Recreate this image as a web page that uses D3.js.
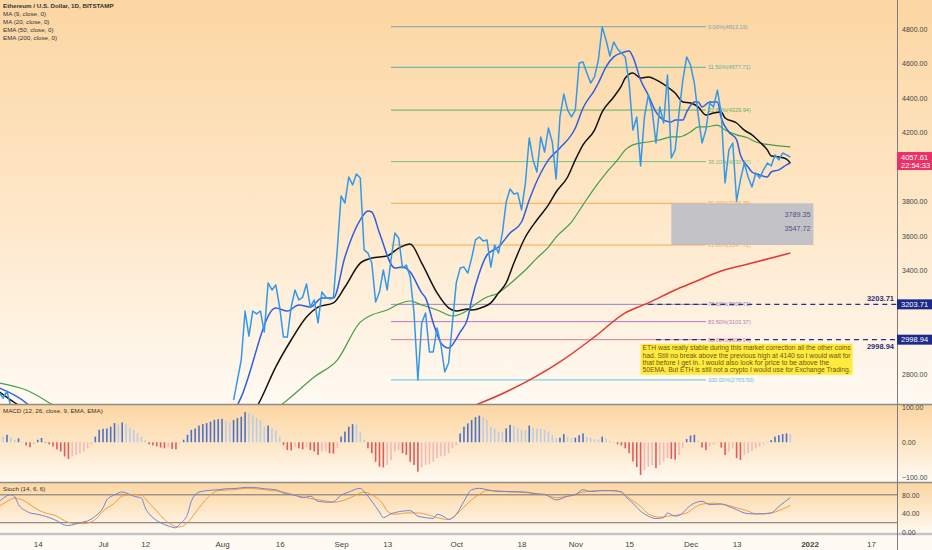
<!DOCTYPE html>
<html>
<head>
<meta charset="utf-8">
<script src="https://cdn.jsdelivr.net/npm/d3@7/dist/d3.min.js"></script>
<style>
  body { margin: 0; background: #fffaf2; }
  svg { display: block; font-family: "Liberation Sans", Arial, sans-serif; }
</style>
</head>
<body>
<div id="chart"></div>
<script>
// day 0 is 1 June 2021, every series is keyed on days from that date
var startDate = new Date(2021, 5, 1);

// daily close (light blue line), first value is day 64 (4 Aug)
var closeStart = 64;
var closes = [2649, 2765, 2881, 3165, 3020, 3165, 3148, 3165, 3043, 3328,
  3287, 3316, 3188, 3014, 3014, 3188, 3287, 3229, 3246, 3322,
  3188, 3229, 3096, 3275, 3246, 3235, 3241, 3519, 3832, 3791,
  3942, 3896, 3959, 3936, 3519, 3501, 3443, 3217, 3275, 3403,
  3287, 3461, 3617, 3588, 3414, 3432, 3362, 3154, 2765, 3096,
  3154, 2928, 2928, 3067, 2968, 2812, 2864, 3096, 3328, 3414,
  3420, 3385, 3472, 3577, 3594, 3571, 3577, 3420, 3548, 3501,
  3617, 3797, 3872, 3843, 3849, 3751, 3907, 4168, 4041, 3971,
  4174, 4087, 4226, 4145, 3930, 4290, 4423, 4330, 4290, 4330,
  4603, 4609, 4545, 4487, 4522, 4620, 4812, 4736, 4643, 4725,
  4684, 4661, 4638, 4487, 4214, 4290, 4006, 4290, 4417, 4330,
  4139, 4348, 4255, 4533, 4052, 4099, 4313, 4504, 4638, 4591,
  4487, 4301, 4139, 4214, 4371, 4348, 4446, 4313, 3907, 4099,
  4139, 3803, 3925, 4023, 3942, 3884, 3965, 3936, 3983, 4023,
  4006, 4070, 4041, 4081, 4070, 4057.61];
// early June closes before price drops below the visible range
var earlyCloses = [[3, 2690], [4, 2660], [5, 2700], [6, 2610], [7, 2560], [8, 2480]];

// moving averages as [day, price], values under 2626 are below the pane
var ma9 = [[3, 2719], [10, 2632], [20, 2350], [35, 2150], [50, 2050], [60, 2400],
  [66, 2667], [75, 3183], [78, 3165], [81, 3200], [84, 3188], [87, 3241], [90, 3241],
  [93, 3478], [97, 3693], [99, 3745], [100, 3739], [102, 3617], [106, 3414], [108, 3420],
  [110, 3391], [113, 3270], [114, 3241], [116, 3096], [118, 2980], [120, 2951], [123, 3043],
  [125, 3125], [126, 3229], [128, 3386], [130, 3490], [133, 3536], [136, 3617], [139, 3681],
  [141, 3809], [144, 3965], [146, 4041], [149, 4110], [153, 4226], [155, 4342], [158, 4446],
  [159, 4487], [161, 4580], [163, 4638], [165, 4661], [167, 4672], [168, 4638], [170, 4504],
  [172, 4417], [174, 4319], [176, 4272], [178, 4261], [179, 4272], [181, 4272], [182, 4319],
  [184, 4377], [185, 4377], [186, 4348], [188, 4377], [190, 4377], [191, 4284], [193, 4203],
  [195, 4157], [196, 4070], [198, 4000], [199, 3971], [201, 3954], [203, 3942], [204, 3971],
  [206, 3983], [208, 4012], [209, 4023]];

var ma20 = [[3, 2696], [6, 2649], [20, 2450], [40, 2100], [55, 2150],
  [71, 2649], [75, 2841], [79, 2997], [83, 3130], [86, 3188], [90, 3212], [93, 3304],
  [97, 3443], [100, 3472], [104, 3484], [107, 3530], [110, 3554], [113, 3443], [117, 3270],
  [120, 3183], [122, 3165], [125, 3177], [126, 3171], [129, 3188], [131, 3212], [133, 3270],
  [135, 3328], [137, 3443], [140, 3594], [143, 3693], [146, 3780], [148, 3855], [151, 3942],
  [153, 4041], [155, 4128], [158, 4214], [160, 4319], [163, 4406], [165, 4470], [166, 4516],
  [168, 4545], [170, 4516], [172, 4522], [175, 4493], [177, 4464], [179, 4429], [181, 4377],
  [183, 4371], [185, 4348], [187, 4301], [189, 4313], [191, 4319], [192, 4284], [195, 4255],
  [197, 4214], [199, 4186], [201, 4145], [203, 4099], [204, 4064], [206, 4058], [208, 4046],
  [209, 4023]];

var ema50 = [[3, 2748], [10, 2707], [17, 2620], [35, 2350], [60, 2400],
  [78, 2649], [85, 2783], [91, 2881], [97, 3101], [100, 3142], [104, 3171], [107, 3206],
  [110, 3223], [113, 3200], [117, 3171], [121, 3136], [125, 3171], [126, 3188], [130, 3246],
  [133, 3270], [135, 3304], [138, 3362], [140, 3403], [143, 3472], [146, 3536], [148, 3594],
  [152, 3681], [155, 3780], [158, 3878], [161, 3965], [164, 4041], [166, 4099], [168, 4128],
  [172, 4145], [175, 4157], [178, 4174], [180, 4174], [183, 4203], [185, 4232], [187, 4232],
  [190, 4243], [192, 4214], [195, 4186], [198, 4168], [200, 4145], [204, 4128], [209, 4116]];

var ema200 = [[60, 2250], [100, 2450], [127, 2620], [136, 2707], [149, 2870], [158, 3015],
  [166, 3154], [172, 3212], [179, 3287], [184, 3333], [191, 3397], [197, 3432], [209, 3501]];

// fibonacci retracement levels
var fibLabels = ["0.00%", "11.50%", "23.60%", "38.20%", "50.00%", "61.80%", "78.60%", "83.50%", "88.60%", "100.00%"];
var fibValues = [4813.19, 4577.71, 4329.94, 4030.97, 3789.35, 3547.72, 3203.71, 3103.37, 2998.94, 2765.50];
var fibColors = ["#7fa2b3", "#4fb5a4", "#5db25f", "#7dbf7d", "#f7aa4c", "#f7aa4c", "#9087c4", "#b27cc6", "#e27a98", "#5cc6e2"];
var fibStartDay = 105, fibEndDay = 187;

// horizontal levels, gray zone and note
var levelValues = [3203.71, 2998.94];
var levelStartDays = [172, 174];
var zoneValues = [3789.35, 3547.72];
var zoneDays = [178, 215];
var lastClose = 4057.61;
var countdown = "22:54:33";
var noteDay = 170, notePrice = 2975;
var noteLines = [
  "ETH was really stable during this market correction all the other coins",
  "had. Still no break above the previous high at 4140 so I would wait for",
  "that before I get in. I would also look for price to be above the",
  "50EMA. But ETH is still not a crypto I would use for Exchange Trading."];

// MACD histogram, first value is day 3
var macdStart = 3;
var macdHist = [16, 16, 21, 13, 7, 11, 1, -9, -14, -6, 7, 12, -2, -6, -12, -20, -26, -40, -47, -40,
  -36, -31, -26, -17, -6, 16, 35, 38, 39, 44, 54, 49, 56, 52, 41, 35, 25, 16, 7, -6,
  -9, -12, -15, -17, -14, -19, -20, -3, 7, 21, 35, 39, 47, 51, 54, 58, 63, 65, 66, 60,
  56, 63, 68, 72, 85, 82, 77, 69, 63, 44, 47, 39, 33, 16, -8, -22, -23, -12, -17, -20,
  -14, -22, -26, -36, -26, -24, -31, -32, -17, 16, 30, 44, 51, 50, 30, 7, -17, -31, -55, -69,
  -71, -64, -50, -26, -22, -31, -36, -55, -64, -83, -71, -64, -62, -55, -45, -40, -38, -31, -17, -8,
  25, 44, 53, 63, 71, 75, 71, 63, 44, 39, 30, 29, 39, 49, 46, 39, 35, 34, 47, 41,
  39, 38, 35, 30, 20, 11, 13, 23, 16, 11, 13, 20, 25, 16, 13, 9, 7, 16, 11, 4,
  0, -6, -9, -17, -31, -54, -70, -92, -78, -69, -64, -73, -64, -54, -45, -47, -49, -36, -17, 9,
  19, 21, 4, -15, -22, -12, -6, -2, -15, -36, -26, -17, -45, -50, -36, -31, -24, -17, -12, -6,
  -1, 6, 16, 20, 23, 25, 23];

// stochastic %K and %D as [day, value]
var stochK = [[3, 66], [6, 80], [7, 76], [8, 59], [10, 45], [11, 41], [13, 38], [14, 36], [16, 31],
  [18, 24], [20, 15], [21, 14], [24, 20], [26, 24], [28, 34], [30, 52], [31, 69], [33, 80],
  [35, 86], [36, 84], [38, 77], [40, 73], [41, 52], [43, 31], [45, 20], [47, 13], [49, 9],
  [50, 17], [52, 38], [53, 66], [55, 86], [57, 89], [60, 91], [62, 93], [65, 94], [67, 96],
  [69, 96], [72, 93], [75, 91], [77, 84], [80, 79], [82, 74], [84, 77], [86, 66], [89, 64],
  [90, 65], [92, 79], [94, 86], [97, 94], [98, 87], [100, 66], [102, 43], [103, 31], [105, 39],
  [108, 45], [110, 46], [112, 34], [114, 31], [116, 29], [117, 38], [119, 32], [120, 27],
  [122, 38], [124, 66], [126, 91], [128, 94], [130, 91], [133, 87], [136, 87], [140, 86],
  [143, 82], [145, 81], [148, 69], [151, 77], [153, 80], [155, 91], [157, 87], [160, 89],
  [163, 89], [165, 86], [166, 77], [168, 62], [170, 45], [172, 34], [174, 29], [176, 31],
  [177, 41], [179, 34], [181, 41], [182, 50], [184, 62], [186, 66], [188, 59], [191, 60],
  [193, 55], [195, 48], [197, 41], [199, 39], [202, 39], [204, 41], [206, 55], [209, 74]];
var stochD = [[3, 55], [5, 66], [7, 73], [9, 69], [11, 59], [13, 48], [15, 41], [18, 34], [20, 24],
  [23, 18], [25, 18], [28, 27], [30, 45], [33, 62], [35, 77], [38, 81], [40, 79], [42, 62],
  [44, 45], [46, 27], [48, 15], [50, 11], [52, 20], [54, 41], [56, 62], [58, 80], [60, 89],
  [64, 91], [67, 94], [70, 93], [74, 89], [77, 86], [81, 77], [84, 72], [88, 67], [90, 64],
  [93, 69], [96, 80], [98, 86], [100, 80], [103, 59], [104, 45], [106, 38], [109, 41],
  [112, 41], [115, 36], [117, 31], [120, 27], [121, 31], [123, 45], [125, 62], [128, 81],
  [130, 89], [133, 89], [136, 86], [140, 85], [142, 83], [145, 80], [148, 74], [152, 79],
  [155, 86], [159, 89], [162, 89], [165, 86], [167, 73], [170, 55], [172, 39], [175, 32],
  [177, 34], [179, 36], [182, 41], [184, 52], [186, 60], [189, 62], [192, 59], [195, 52],
  [198, 45], [200, 39], [204, 41], [206, 46], [209, 57]];

// axis ticks
var priceTicks = [4800, 4600, 4400, 4200, 4000, 3800, 3600, 3400, 3200, 3000, 2800];
var macdTicks = [100, 0, -100];
var stochTicks = [80, 40, 0];
var stochBands = [80, 20];
var timeTicks = ["2021-06-14", "2021-07-01", "2021-07-12", "2021-08-01", "2021-08-16", "2021-09-01",
  "2021-09-13", "2021-10-01", "2021-10-18", "2021-11-01", "2021-11-15", "2021-12-01",
  "2021-12-13", "2022-01-01", "2022-01-17"];
var timeLabels = ["14", "Jul", "12", "Aug", "16", "Sep", "13", "Oct", "18", "Nov", "15", "Dec", "13", "2022", "17"];

var legendLines = ["Ethereum / U.S. Dollar, 1D, BITSTAMP", "MA (9, close, 0)", "MA (20, close, 0)",
  "EMA (50, close, 0)", "EMA (200, close, 0)"];

function dayToDate(d){ return d3.timeDay.offset(startDate, d); }

var width = 932, height = 550, plotRight = 897,
    main = {top: 0, bottom: 404},
    macd = {top: 405, bottom: 482},
    stoch = {top: 483, bottom: 533};

var svg = d3.select("#chart").append("svg")
    .attr("width", width)
    .attr("height", height);

var defs = svg.append("defs");

// each pane fades from peach at the top to cream at the bottom
function paneGradient(id, top, bottom){
  var g = defs.append("linearGradient")
      .attr("id", id)
      .attr("gradientUnits", "userSpaceOnUse")
      .attr("x1", 0).attr("x2", 0)
      .attr("y1", top).attr("y2", bottom);
  g.append("stop").attr("offset", 0).attr("stop-color", "#fcd6a2");
  g.append("stop").attr("offset", 0.55).attr("stop-color", "#fee8ca");
  g.append("stop").attr("offset", 1).attr("stop-color", "#fffaf3");
}
paneGradient("gMain", main.top, main.bottom);
paneGradient("gMacd", macd.top, macd.bottom);
paneGradient("gStoch", stoch.top, stoch.bottom);

[[main, "gMain"], [macd, "gMacd"], [stoch, "gStoch"]].forEach(function(p){
  svg.append("rect")
      .attr("x", 0).attr("y", p[0].top)
      .attr("width", width).attr("height", p[0].bottom - p[0].top)
      .attr("fill", "url(#" + p[1] + ")");
  defs.append("clipPath").attr("id", "clip" + p[1])
    .append("rect")
      .attr("x", 0).attr("y", p[0].top)
      .attr("width", plotRight).attr("height", p[0].bottom - p[0].top);
});

// scales
var x = d3.scaleTime()
    .domain([dayToDate(0), dayToDate(236)])
    .range([-12.2, -12.2 + 236 * 3.84]);

var yPrice = d3.scaleLinear().domain([2626, 4968]).range([main.bottom, main.top]);
var yMacd = d3.scaleLinear().domain([-112, 105]).range([macd.bottom, macd.top]);
var yStoch = d3.scaleLinear().domain([0, 105]).range([532, 483.2]);

var xd = d => x(dayToDate(d));

// ---------- main pane ----------
var gMain = svg.append("g").attr("clip-path", "url(#clipgMain)");

// fib levels
fibValues.forEach(function(v, i){
  gMain.append("line")
      .attr("x1", xd(fibStartDay)).attr("x2", xd(fibEndDay))
      .attr("y1", yPrice(v)).attr("y2", yPrice(v))
      .attr("stroke", fibColors[i])
      .attr("stroke-width", 1);
  gMain.append("text")
      .attr("x", xd(fibEndDay) + 2)
      .attr("y", yPrice(v))
      .attr("dy", "0.35em")
      .attr("font-size", "5.6px")
      .attr("fill", fibColors[i])
      .text(fibLabels[i] + "(" + v.toFixed(2) + ")");
});

// gray zone
gMain.append("rect")
    .attr("x", xd(zoneDays[0]))
    .attr("y", yPrice(zoneValues[0]))
    .attr("width", xd(zoneDays[1]) - xd(zoneDays[0]))
    .attr("height", yPrice(zoneValues[1]) - yPrice(zoneValues[0]))
    .attr("fill", "#b9bbc6")
    .attr("opacity", 0.85);
zoneValues.forEach(function(v, i){
  gMain.append("text")
      .attr("x", xd(zoneDays[1]) - 3)
      .attr("y", yPrice(zoneValues[0]) + 13.5 + i * 14)
      .attr("text-anchor", "end")
      .attr("font-size", "7.2px")
      .attr("fill", "#4b5088")
      .text(v.toFixed(2));
});

// indicator lines
var lineP = d3.line()
    .x(d => xd(d[0]))
    .y(d => yPrice(d[1]))
    .curve(d3.curveMonotoneX);

var closePoints = closes.map((v, i) => [closeStart + i, v]);

var priceLines = [
  [ema200, "#e53935", 1.5, true],
  [ema50, "#43a047", 1.2, true],
  [ma20, "#111111", 1.5, true],
  [ma9, "#2f5fe0", 1.5, true],
  [earlyCloses, "#3398ea", 1.5, false],
  [closePoints, "#3398ea", 1.5, false]
];
priceLines.forEach(function(l){
  gMain.append("path")
      .datum(l[0])
      .attr("fill", "none")
      .attr("stroke", l[1])
      .attr("stroke-width", l[2])
      .attr("stroke-linejoin", "round")
      .attr("d", l[3] ? lineP(l[0]) : lineP.curve(d3.curveLinear)(l[0]));
  lineP.curve(d3.curveMonotoneX);
});

// dashed levels running into the price axis
levelValues.forEach(function(v, i){
  svg.append("line")
      .attr("x1", xd(levelStartDays[i])).attr("x2", plotRight)
      .attr("y1", yPrice(v)).attr("y2", yPrice(v))
      .attr("stroke", "#2b2f7e")
      .attr("stroke-width", 1.4)
      .attr("stroke-dasharray", "5,4");
  svg.append("text")
      .attr("x", plotRight - 3)
      .attr("y", yPrice(v) + (i == 0 ? -3 : 9))
      .attr("text-anchor", "end")
      .attr("font-size", "7.5px")
      .attr("font-weight", "bold")
      .attr("fill", "#2b2f7e")
      .text(v.toFixed(2));
});

// yellow note
var noteX = xd(noteDay), noteY = yPrice(notePrice);
svg.append("rect")
    .attr("x", noteX).attr("y", noteY)
    .attr("width", 212).attr("height", 31)
    .attr("fill", "#ffea3d");
var noteText = svg.append("g");
noteLines.forEach(function(t, i){
  var tx = noteText.append("text")
      .attr("x", noteX + 2)
      .attr("y", noteY + 6.5 + i * 7.3)
      .attr("font-size", "6.9px")
      .attr("fill", "#6a5718")
      .text(t);
  if (tx.node().getComputedTextLength() > 208) {
    tx.attr("textLength", 208).attr("lengthAdjust", "spacingAndGlyphs");
  }
});

// legend
legendLines.forEach(function(t, i){
  svg.append("text")
      .attr("x", 3)
      .attr("y", 8 + i * 8)
      .attr("font-size", "6.2px")
      .attr("font-weight", i == 0 ? "bold" : "normal")
      .attr("fill", "#333333")
      .text(t);
});

// ---------- MACD pane ----------
var gMacd = svg.append("g").attr("clip-path", "url(#clipgMacd)");

gMacd.selectAll("rect.hist")
    .data(macdHist)
    .enter().append("rect")
    .attr("class", "hist")
    .attr("x", (d, i) => xd(macdStart + i) - 0.8)
    .attr("width", 1.6)
    .attr("y", d => Math.min(yMacd(d), yMacd(0)))
    .attr("height", d => Math.max(0.6, Math.abs(yMacd(d) - yMacd(0))))
    .attr("fill", function(d, i){
      var prev = i > 0 ? macdHist[i - 1] : d;
      if (d >= 0) return prev < d ? "#4a73c9" : "#b9cce9";
      return prev < d ? "#f3b9b9" : "#e25b5b";
    });

svg.append("text")
    .attr("x", 3).attr("y", macd.top + 8)
    .attr("font-size", "6.2px")
    .attr("fill", "#333333")
    .text("MACD (12, 26, close, 9, EMA, EMA)");

// ---------- Stoch pane ----------
var gStoch = svg.append("g").attr("clip-path", "url(#clipgStoch)");

stochBands.forEach(function(v){
  gStoch.append("line")
      .attr("x1", 0).attr("x2", plotRight)
      .attr("y1", yStoch(v)).attr("y2", yStoch(v))
      .attr("stroke", "#707070")
      .attr("stroke-width", 1);
});

var lineS = d3.line()
    .x(d => xd(d[0]))
    .y(d => yStoch(d[1]))
    .curve(d3.curveMonotoneX);

[[stochD, "#f39a3e"], [stochK, "#6e84d8"]].forEach(function(l){
  gStoch.append("path")
      .attr("fill", "none")
      .attr("stroke", l[1])
      .attr("stroke-width", 1)
      .attr("d", lineS(l[0]));
});

svg.append("text")
    .attr("x", 3).attr("y", stoch.top + 8)
    .attr("font-size", "6.2px")
    .attr("fill", "#333333")
    .text("Stoch (14, 6, 6)");

// pane separators
[main.bottom + 0.5, macd.bottom + 0.5].forEach(function(y){
  svg.append("line")
      .attr("x1", 0).attr("x2", width)
      .attr("y1", y).attr("y2", y)
      .attr("stroke", "#8c8c8c")
      .attr("stroke-width", 1.6);
});
svg.append("rect")
    .attr("x", 0).attr("y", stoch.bottom)
    .attr("width", width).attr("height", height - stoch.bottom)
    .attr("fill", "#fffaf3");
svg.append("line")
    .attr("x1", 0).attr("x2", width)
    .attr("y1", stoch.bottom + 1).attr("y2", stoch.bottom + 1)
    .attr("stroke", "#c4c4c4")
    .attr("stroke-width", 2.5);

// price axis line
svg.append("line")
    .attr("x1", plotRight + 0.5).attr("x2", plotRight + 0.5)
    .attr("y1", 0).attr("y2", height)
    .attr("stroke", "#7d7d7d")
    .attr("stroke-width", 1);

// right axes, skipping ticks hidden under the price tags
var tagValues = [lastClose].concat(levelValues);
function styleAxis(g){
  g.select(".domain").remove();
  g.selectAll("text")
      .attr("font-size", "7px")
      .attr("fill", "#444444")
      .attr("font-family", "Liberation Sans, Arial, sans-serif");
}

svg.append("g")
    .attr("transform", "translate(" + plotRight + ",0)")
    .call(d3.axisRight(yPrice)
        .tickValues(priceTicks.filter(t => tagValues.every(v => Math.abs(yPrice(t) - yPrice(v)) > 16)))
        .tickFormat(d3.format(".2f"))
        .tickSize(0)
        .tickPadding(5))
    .call(styleAxis);

svg.append("g")
    .attr("transform", "translate(" + plotRight + ",0)")
    .call(d3.axisRight(yMacd).tickValues(macdTicks).tickFormat(d3.format(".2f")).tickSize(0).tickPadding(5))
    .call(styleAxis);

svg.append("g")
    .attr("transform", "translate(" + plotRight + ",0)")
    .call(d3.axisRight(yStoch).tickValues(stochTicks).tickFormat(d3.format(".2f")).tickSize(0).tickPadding(5))
    .call(styleAxis);

// price tags on the axis
svg.append("rect")
    .attr("x", plotRight).attr("y", yPrice(lastClose) - 5)
    .attr("width", width - plotRight).attr("height", 18)
    .attr("fill", "#ec2f66");
[lastClose.toFixed(2), countdown].forEach(function(t, i){
  svg.append("text")
      .attr("x", plotRight + 4)
      .attr("y", yPrice(lastClose) + 2.5 + i * 8.5)
      .attr("font-size", "7.5px")
      .attr("fill", "#ffffff")
      .text(t);
});
levelValues.forEach(function(v){
  svg.append("rect")
      .attr("x", plotRight).attr("y", yPrice(v) - 5)
      .attr("width", width - plotRight).attr("height", 10)
      .attr("fill", "#1d2a8c");
  svg.append("text")
      .attr("x", plotRight + 4)
      .attr("y", yPrice(v))
      .attr("dy", "0.35em")
      .attr("font-size", "7.5px")
      .attr("fill", "#ffffff")
      .text(v.toFixed(2));
});

// time axis
var parseDay = d3.timeParse("%Y-%m-%d");
var tAxis = svg.append("g")
    .attr("transform", "translate(0," + (stoch.bottom + 1) + ")")
    .call(d3.axisBottom(x)
        .tickValues(timeTicks.map(parseDay))
        .tickFormat((d, i) => timeLabels[i])
        .tickSize(0)
        .tickPadding(7));
tAxis.select(".domain").remove();
tAxis.selectAll("text")
    .attr("font-size", "8px")
    .attr("fill", "#444444")
    .attr("font-family", "Liberation Sans, Arial, sans-serif")
    .attr("font-weight", (d, i) => timeLabels[i] == "2022" ? "bold" : "normal");
</script>
</body>
</html>
